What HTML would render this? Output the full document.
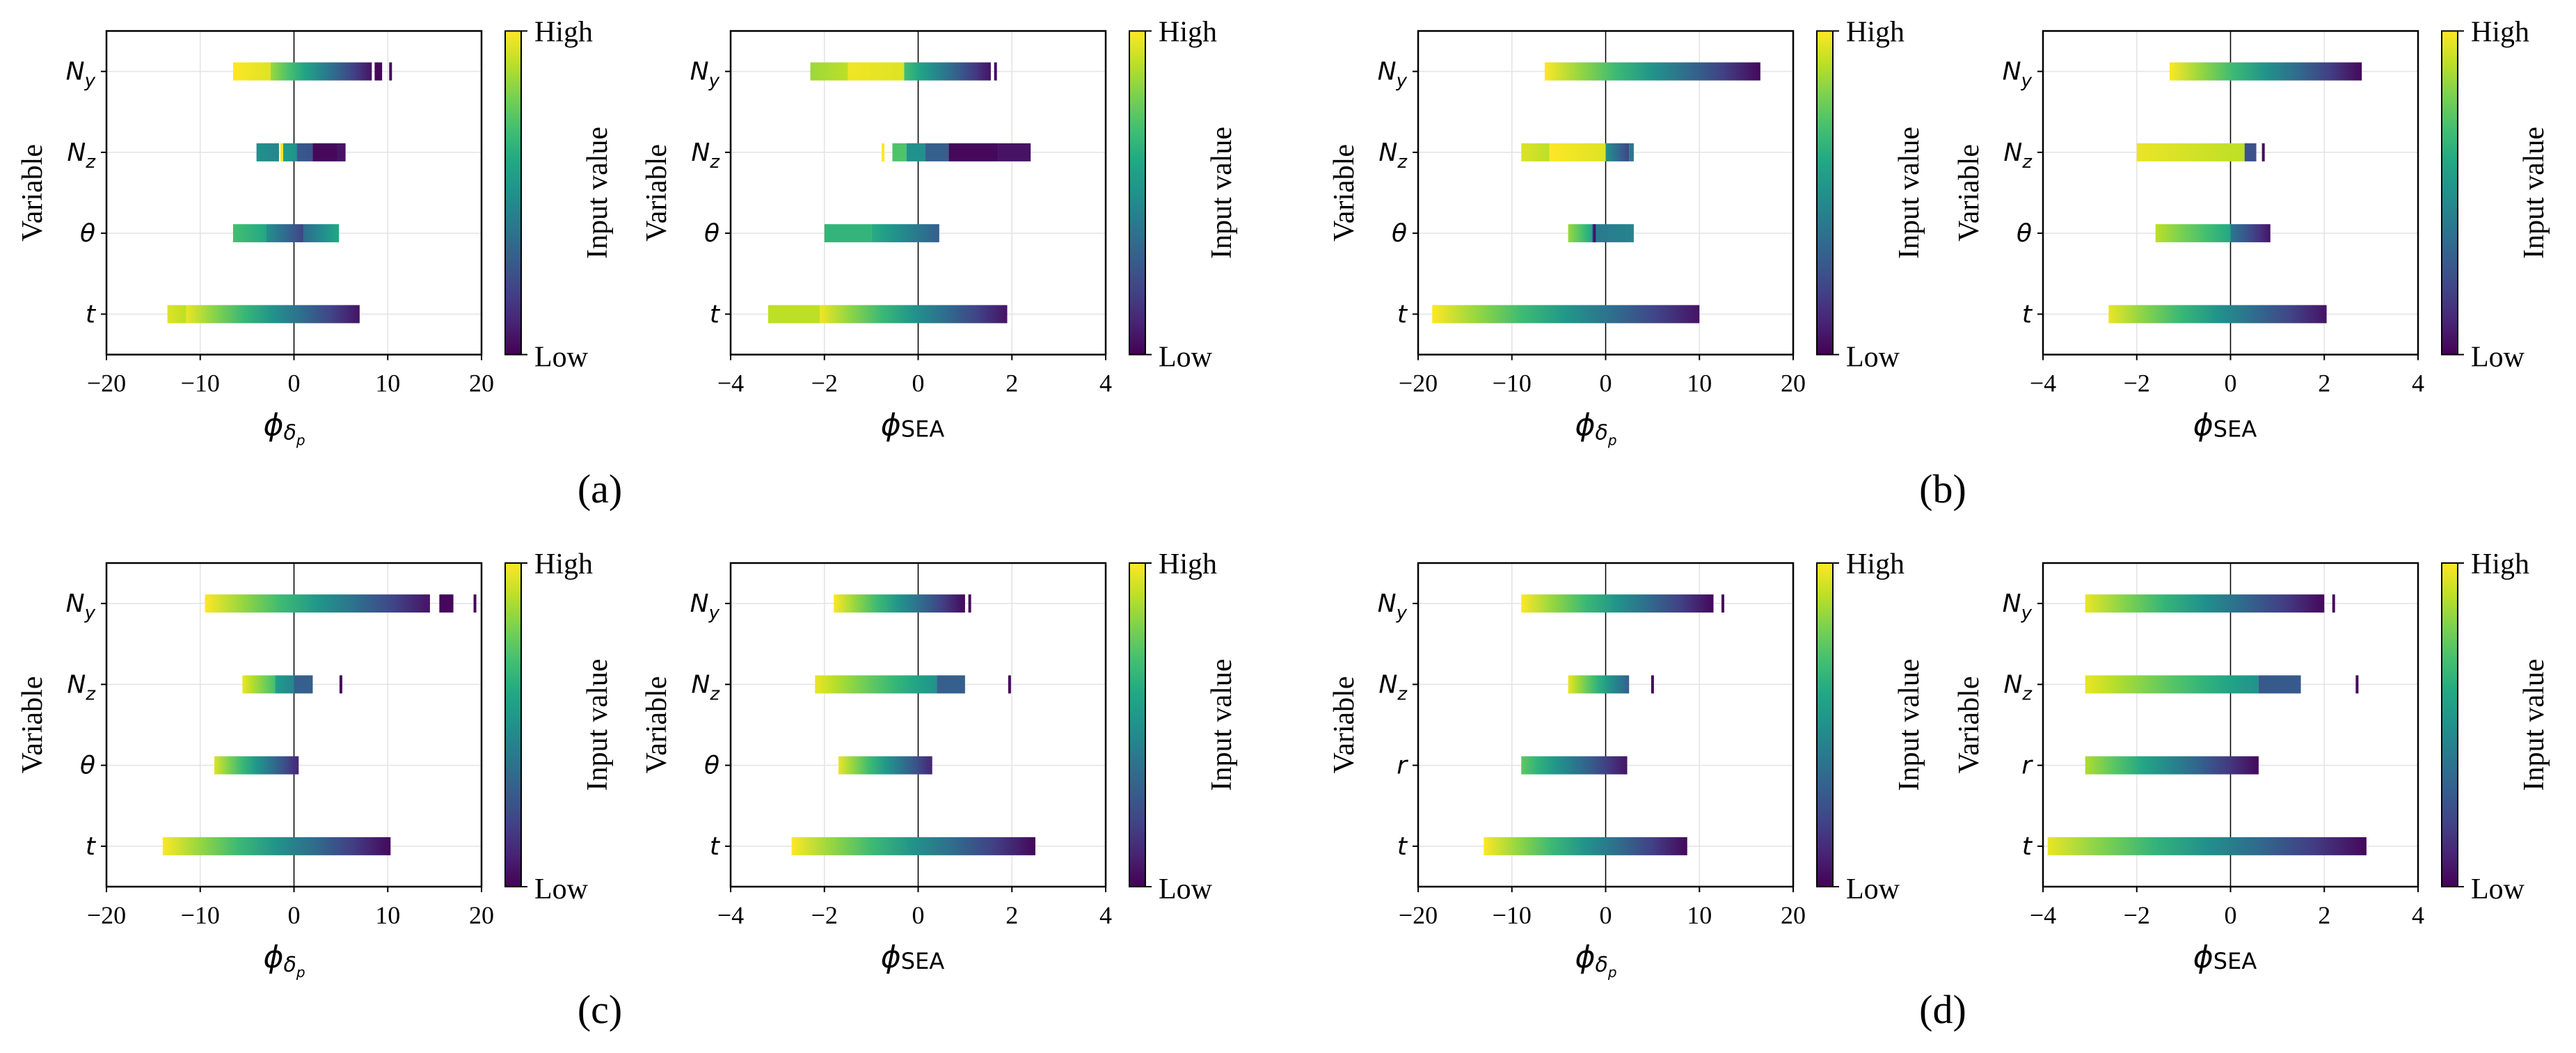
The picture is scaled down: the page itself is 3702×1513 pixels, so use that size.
<!DOCTYPE html>
<html><head><meta charset="utf-8"><style>
html,body{margin:0;padding:0;background:#fff;}
svg{display:block;}
.tk{font-family:"Liberation Serif",serif;font-size:36px;fill:#000;}
.lab{font-family:"Liberation Serif",serif;font-size:42px;fill:#000;}
.ytk{font-family:"DejaVu Sans","Liberation Sans",sans-serif;font-style:italic;font-size:36px;fill:#000;}
.phi{font-family:"DejaVu Sans","Liberation Sans",sans-serif;font-style:italic;font-size:44px;fill:#000;}
.cap{font-family:"Liberation Serif",serif;font-size:58px;fill:#000;}
</style></head><body>
<svg id="fig" width="3702" height="1513" viewBox="0 0 3702 1513" xmlns="http://www.w3.org/2000/svg">
<defs id="defs"></defs>
</svg>
<script>
// ---------- data ----------
const varsTheta = ["N_y","N_z","θ","t"];
const varsR = ["N_y","N_z","r","t"];
const domDelta = [-20,20];
const domSEA = [-4,4];
const ticksDelta = [-20,-10,0,10,20];
const ticksSEA = [-4,-2,0,2,4];
const tickLabelsDelta = ["−20","−10","0","10","20"];
const tickLabelsSEA = ["−4","−2","0","2","4"];

const segA1 = [
  [[-6.5,-2.5,1,0.95],[-2.5,8.3,0.85,0.05],[8.6,9.4,0.02,0.02]],
  [[-4,-1.6,0.5,0.45],[-1.2,0.3,0.55,0.5],[0.3,2,0.28,0.25],[2,4.6,0.02,0.02],[4.6,5.5,0.05,0.05]],
  [[-6.5,-3,0.7,0.6],[-3,1,0.5,0.2],[1,4.8,0.35,0.6]],
  [[-13.5,-11.5,0.95,0.9],[-11.5,7,0.97,0.05]]
];
const stickA1 = [[[10.3,0.02]],[[-1.3,1]],[],[]];
const segA2 = [
  [[-2.3,-1.5,0.85,0.9],[-1.5,-0.3,0.98,0.95],[-0.3,1.55,0.7,0.05]],
  [[-0.55,-0.25,0.72,0.72],[-0.25,0.15,0.5,0.5],[0.15,0.65,0.3,0.3],[0.65,1.7,0.02,0.02],[1.7,2.4,0.05,0.05]],
  [[-2,-1,0.65,0.65],[-1,0.45,0.62,0.3]],
  [[-3.2,-2.1,0.9,0.9],[-2.1,1.9,0.98,0.05]]
];
const stickA2 = [[[1.65,0.02]],[[-0.75,1]],[],[]];
const segB1 = [
  [[-6.5,16.5,1,0.02]],
  [[-9,-6,0.95,0.9],[-6,0,1,0.95],[0,2.5,0.5,0.2],[2.5,3,0.4,0.4]],
  [[-4,-1.5,0.85,0.6],[-1.5,3,0.4,0.45]],
  [[-18.5,10,1,0.05]]
];
const stickB1 = [[],[],[[-1.2,0.05]],[]];
const segB2 = [
  [[-1.3,2.8,1,0.02]],
  [[-2,0.3,0.97,0.9],[0.3,0.55,0.25,0.25]],
  [[-1.6,0,0.9,0.6],[0,0.85,0.4,0.05]],
  [[-2.6,2.05,0.97,0.05]]
];
const stickB2 = [[],[[0.7,0.02]],[],[]];
const segC1 = [
  [[-9.5,14.5,1,0.05],[15.5,17,0.02,0.02]],
  [[-5.5,-2,0.97,0.7],[-2,0,0.55,0.45],[0,2,0.3,0.3]],
  [[-8.5,0.5,0.95,0.1]],
  [[-14,10.3,1,0.02]]
];
const stickC1 = [[[19.3,0.02]],[[5,0.02]],[],[]];
const segC2 = [
  [[-1.8,1.0,1,0.02]],
  [[-2.2,0.4,0.97,0.5],[0.4,1.0,0.3,0.3]],
  [[-1.7,0.3,0.97,0.1]],
  [[-2.7,2.5,1,0.02]]
];
const stickC2 = [[[1.1,0.02]],[[1.95,0.02]],[],[]];
const segD1 = [
  [[-9,11.5,1,0.02]],
  [[-4,2.5,0.97,0.3]],
  [[-9,2.3,0.75,0.05]],
  [[-13,8.7,1,0.02]]
];
const stickD1 = [[[12.5,0.02]],[[5,0.02]],[],[]];
const segD2 = [
  [[-3.1,2.0,0.97,0.02]],
  [[-3.1,0.6,0.97,0.5],[0.6,1.5,0.28,0.28]],
  [[-3.1,0.6,0.88,0.02]],
  [[-3.9,2.9,0.97,0.02]]
];
const stickD2 = [[[2.2,0.02]],[[2.7,0.02]],[],[]];

// ---------- rendering ----------
const NS="http://www.w3.org/2000/svg";
const svg=document.getElementById('fig');
const defs=document.getElementById('defs');
const VIR=["#440154","#482475","#414487","#355f8d","#2a788e","#21918c","#22a884","#44bf70","#7ad151","#bddf26","#fde725"];
function hex(h){return [parseInt(h.substr(1,2),16),parseInt(h.substr(3,2),16),parseInt(h.substr(5,2),16)];}
function vir(t){t=Math.max(0,Math.min(1,t));const f=t*10;const i=Math.min(9,Math.floor(f));const u=f-i;const a=hex(VIR[i]),b=hex(VIR[i+1]);
  return "rgb("+a.map((v,k)=>Math.round(v+(b[k]-v)*u)).join(",")+")";}
function el(tag,attrs,parent){const e=document.createElementNS(NS,tag);for(const k in attrs)e.setAttribute(k,attrs[k]);(parent||svg).appendChild(e);return e;}
let gid=0;
function gradient(c0,c1){const id="g"+(gid++);const g=el("linearGradient",{id:id,x1:"0",x2:"1",y1:"0",y2:"0"},defs);
  for(let i=0;i<=6;i++){const t=i/6;el("stop",{offset:t,"stop-color":vir(c0+(c1-c0)*t)},g);}return id;}
const cbg=el("linearGradient",{id:"cbgrad",x1:"0",x2:"0",y1:"1",y2:"0"},defs);
for(let i=0;i<=10;i++)el("stop",{offset:i/10,"stop-color":VIR[i]},cbg);

function ylabelText(g,name,x,y){
  const t=el("text",{x:x,y:y+12,"text-anchor":"end",class:"ytk"},g);
  if(name.indexOf("_")>0){const p=name.split("_");t.textContent=p[0];
    const s=el("tspan",{"font-size":"26",dy:"10"},t);s.textContent=p[1];}
  else t.textContent=name;
  return t;
}

function panel(L,T,dom,ticks,tlabels,vars,segs,sticks,isSEA,key){
  const W=539,H=465;
  const g=el("g",{});
  
  
  const sx=v=>L+(v-dom[0])/(dom[1]-dom[0])*W;
  const sy=i=>T+(i+0.5)/4*H;
  ticks.forEach(v=>{const l=el("line",{x1:sx(v),x2:sx(v),y1:T,y2:T+H,stroke:"#e3e3e3","stroke-width":1.5},g);
    });
  vars.forEach((v,i)=>{const l=el("line",{x1:L,x2:L+W,y1:sy(i),y2:sy(i),stroke:"#e3e3e3","stroke-width":1.5},g);
    });
  const z=el("line",{x1:sx(0),x2:sx(0),y1:T,y2:T+H,stroke:"#000","stroke-width":1.5},g);
  
  const hh=26;
  segs.forEach((row,i)=>{row.forEach(s=>{
    const id=gradient(s[2],s[3]);
    const r=el("rect",{x:sx(s[0]),y:sy(i)-hh/2,width:Math.max(1,sx(s[1])-sx(s[0])),height:hh,fill:"url(#"+id+")"},g);
    
    });});
  sticks.forEach((row,i)=>{row.forEach(s=>{
    const r=el("rect",{x:sx(s[0])-2,y:sy(i)-hh/2,width:4,height:hh,fill:vir(s[1])},g);
    
    });});
  const f=el("rect",{x:L,y:T,width:W,height:H,fill:"none",stroke:"#000","stroke-width":2.5},g);
  
  ticks.forEach((v,k)=>{el("line",{x1:sx(v),x2:sx(v),y1:T+H,y2:T+H+8,stroke:"#000","stroke-width":2},g);
    const t=el("text",{x:sx(v),y:T+H+53,"text-anchor":"middle",class:"tk"},g);t.textContent=tlabels[k];
    });
  vars.forEach((v,i)=>{el("line",{x1:L-8,x2:L,y1:sy(i),y2:sy(i),stroke:"#000","stroke-width":2},g);
    const t=ylabelText(g,v,L-16,sy(i));
    });
  const xl=el("text",{x:L+W/2-(isSEA?8:14),y:T+H+116,"text-anchor":"middle",class:"phi"},g);
  xl.textContent="ϕ";
  if(isSEA){const s=el("tspan",{"font-size":"32","font-style":"normal",dy:"2"},xl);s.textContent="SEA";}
  else{const s=el("tspan",{"font-size":"30",dy:"6"},xl);s.textContent="δ";const p=el("tspan",{"font-size":"20",dy:"8"},xl);p.textContent="p";}
  
  const yl=el("text",{x:0,y:0,"text-anchor":"middle",class:"lab",transform:"translate("+(L-93)+","+(T+H/2)+") rotate(-90)"},g);
  yl.textContent="Variable";
  
  const cx=L+573;
  const cb=el("rect",{x:cx,y:T,width:23,height:H,fill:"url(#cbgrad)",stroke:"#000","stroke-width":2},g);
  
  el("line",{x1:cx+23,x2:cx+32,y1:T,y2:T,stroke:"#000","stroke-width":2},g);
  el("line",{x1:cx+23,x2:cx+32,y1:T+H,y2:T+H,stroke:"#000","stroke-width":2},g);
  const hi=el("text",{x:cx+42,y:T+15,class:"lab","font-size":"44"},g);hi.textContent="High";
  
  const lo=el("text",{x:cx+42,y:T+H+17,class:"lab","font-size":"44"},g);lo.textContent="Low";
  
  const iv=el("text",{x:0,y:0,"text-anchor":"middle",class:"lab",transform:"translate("+(cx+146)+","+(T+H/2)+") rotate(-90)"},g);
  iv.textContent="Input value";
  
}

const TT=44.5, TB=809;
panel(153,TT,domDelta,ticksDelta,tickLabelsDelta,varsTheta,segA1,stickA1,false,"a-delta");
panel(1050,TT,domSEA,ticksSEA,tickLabelsSEA,varsTheta,segA2,stickA2,true,"a-sea");
panel(2038,TT,domDelta,ticksDelta,tickLabelsDelta,varsTheta,segB1,stickB1,false,"b-delta");
panel(2936,TT,domSEA,ticksSEA,tickLabelsSEA,varsTheta,segB2,stickB2,true,"b-sea");
panel(153,TB,domDelta,ticksDelta,tickLabelsDelta,varsTheta,segC1,stickC1,false,"c-delta");
panel(1050,TB,domSEA,ticksSEA,tickLabelsSEA,varsTheta,segC2,stickC2,true,"c-sea");
panel(2038,TB,domDelta,ticksDelta,tickLabelsDelta,varsR,segD1,stickD1,false,"d-delta");
panel(2936,TB,domSEA,ticksSEA,tickLabelsSEA,varsR,segD2,stickD2,true,"d-sea");

[["(a)",862,722],["(b)",2792,722],["(c)",862,1470],["(d)",2792,1470]].forEach(c=>{
  const t=el("text",{x:c[1],y:c[2],"text-anchor":"middle",class:"cap"});t.textContent=c[0];
  
  
});
</script>
</body></html>
